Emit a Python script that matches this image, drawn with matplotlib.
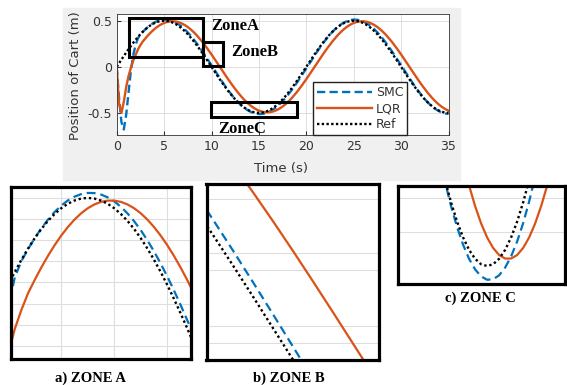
import numpy as np
import matplotlib
matplotlib.use("Agg")
import matplotlib.pyplot as plt
from matplotlib.patches import Rectangle

# sample times, 0.25 s step
time = np.linspace(0, 35, 141)

ref = [0.0, 0.0392, 0.0782, 0.1167, 0.1545, 0.1913, 0.2270, 0.2612, 0.2939, 0.3247,
       0.3536, 0.3802, 0.4045, 0.4263, 0.4455, 0.4619, 0.4755, 0.4862, 0.4938, 0.4985,
       0.5, 0.4985, 0.4938, 0.4862, 0.4755, 0.4619, 0.4455, 0.4263, 0.4045, 0.3802,
       0.3536, 0.3247, 0.2939, 0.2612, 0.2270, 0.1913, 0.1545, 0.1167, 0.0782, 0.0392,
       0.0, -0.0392, -0.0782, -0.1167, -0.1545, -0.1913, -0.2270, -0.2612, -0.2939, -0.3247,
       -0.3536, -0.3802, -0.4045, -0.4263, -0.4455, -0.4619, -0.4755, -0.4862, -0.4938, -0.4985,
       -0.5, -0.4985, -0.4938, -0.4862, -0.4755, -0.4619, -0.4455, -0.4263, -0.4045, -0.3802,
       -0.3536, -0.3247, -0.2939, -0.2612, -0.2270, -0.1913, -0.1545, -0.1167, -0.0782, -0.0392,
       0.0, 0.0392, 0.0782, 0.1167, 0.1545, 0.1913, 0.2270, 0.2612, 0.2939, 0.3247,
       0.3536, 0.3802, 0.4045, 0.4263, 0.4455, 0.4619, 0.4755, 0.4862, 0.4938, 0.4985,
       0.5, 0.4985, 0.4938, 0.4862, 0.4755, 0.4619, 0.4455, 0.4263, 0.4045, 0.3802,
       0.3536, 0.3247, 0.2939, 0.2612, 0.2270, 0.1913, 0.1545, 0.1167, 0.0782, 0.0392,
       0.0, -0.0392, -0.0782, -0.1167, -0.1545, -0.1913, -0.2270, -0.2612, -0.2939, -0.3247,
       -0.3536, -0.3802, -0.4045, -0.4263, -0.4455, -0.4619, -0.4755, -0.4862, -0.4938, -0.4985,
       -0.5]

lqr = [0.0, -0.40, -0.50, -0.38, -0.22, -0.10, -0.01, 0.07, 0.13, 0.19,
       0.235, 0.2745, 0.3058, 0.3353, 0.3628, 0.3880, 0.4108, 0.4310, 0.4486, 0.4635,
       0.4755, 0.4845, 0.4906, 0.4936, 0.4936, 0.4906, 0.4845, 0.4755, 0.4635, 0.4486,
       0.4310, 0.4108, 0.3880, 0.3628, 0.3353, 0.3058, 0.2745, 0.2414, 0.2068, 0.1710,
       0.1341, 0.0964, 0.0581, 0.0194, -0.0194, -0.0581, -0.0964, -0.1341, -0.1710, -0.2068,
       -0.2414, -0.2745, -0.3058, -0.3353, -0.3628, -0.3880, -0.4108, -0.4310, -0.4486, -0.4635,
       -0.4755, -0.4845, -0.4906, -0.4936, -0.4936, -0.4906, -0.4845, -0.4755, -0.4635, -0.4486,
       -0.4310, -0.4108, -0.3880, -0.3628, -0.3353, -0.3058, -0.2745, -0.2414, -0.2068, -0.1710,
       -0.1341, -0.0964, -0.0581, -0.0194, 0.0194, 0.0581, 0.0964, 0.1341, 0.1710, 0.2068,
       0.2414, 0.2745, 0.3058, 0.3353, 0.3628, 0.3880, 0.4108, 0.4310, 0.4486, 0.4635,
       0.4755, 0.4845, 0.4906, 0.4936, 0.4936, 0.4906, 0.4845, 0.4755, 0.4635, 0.4486,
       0.4310, 0.4108, 0.3880, 0.3628, 0.3353, 0.3058, 0.2745, 0.2414, 0.2068, 0.1710,
       0.1341, 0.0964, 0.0581, 0.0194, -0.0194, -0.0581, -0.0964, -0.1341, -0.1710, -0.2068,
       -0.2414, -0.2745, -0.3058, -0.3353, -0.3628, -0.3880, -0.4108, -0.4310, -0.4486, -0.4635,
       -0.4755]

smc = [0.0, -0.34, -0.60, -0.68, -0.52, -0.28, -0.04, 0.13, 0.24, 0.312,
       0.3505, 0.3787, 0.4046, 0.4279, 0.4487, 0.4666, 0.4817, 0.4939, 0.5029, 0.5089,
       0.5118, 0.5114, 0.5080, 0.5014, 0.4917, 0.4790, 0.4633, 0.4447, 0.4235, 0.3996,
       0.3732, 0.3446, 0.3138, 0.2811, 0.2467, 0.2107, 0.1734, 0.1351, 0.0959, 0.0562,
       0.0161, -0.0241, -0.0642, -0.1038, -0.1429, -0.1810, -0.2180, -0.2537, -0.2878, -0.3201,
       -0.3505, -0.3787, -0.4046, -0.4279, -0.4487, -0.4666, -0.4817, -0.4939, -0.5029, -0.5089,
       -0.5118, -0.5114, -0.5080, -0.5014, -0.4917, -0.4790, -0.4633, -0.4447, -0.4235, -0.3996,
       -0.3732, -0.3446, -0.3138, -0.2811, -0.2467, -0.2107, -0.1734, -0.1351, -0.0959, -0.0562,
       -0.0161, 0.0241, 0.0642, 0.1038, 0.1429, 0.1810, 0.2180, 0.2537, 0.2878, 0.3201,
       0.3505, 0.3787, 0.4046, 0.4279, 0.4487, 0.4666, 0.4817, 0.4939, 0.5029, 0.5089,
       0.5118, 0.5114, 0.5080, 0.5014, 0.4917, 0.4790, 0.4633, 0.4447, 0.4235, 0.3996,
       0.3732, 0.3446, 0.3138, 0.2811, 0.2467, 0.2107, 0.1734, 0.1351, 0.0959, 0.0562,
       0.0161, -0.0241, -0.0642, -0.1038, -0.1429, -0.1810, -0.2180, -0.2537, -0.2878, -0.3201,
       -0.3505, -0.3787, -0.4046, -0.4279, -0.4487, -0.4666, -0.4817, -0.4939, -0.5029, -0.5089,
       -0.5118]

# zone boxes (t0, t1, y0, y1)
zones = {"A": (1.3, 9.15, 0.109, 0.526),
         "B": (9.08, 11.2, 0.011, 0.272),
         "C": (9.93, 19.0, -0.543, -0.387)}

blue = "#0072BD"
orange = "#D95319"

W, H = 567, 385
fig = plt.figure(figsize=(W / 100, H / 100), dpi=100)

def px_axes(x0, y0, x1, y1):
    return fig.add_axes([x0 / W, 1 - y1 / H, (x1 - x0) / W, (y1 - y0) / H])

# matlab-ish grey figure background behind the main plot
fig.patches.append(Rectangle((63 / W, 1 - 180 / H), (460 - 63) / W, (180 - 8) / H,
                             transform=fig.transFigure, color="#f0f0f0", zorder=-5))

ax = px_axes(116.7, 14, 448.5, 135)
ax.plot(time, smc, color=blue, lw=1.7, linestyle=(0, (3.5, 1.8)), label="SMC")
ax.plot(time, lqr, color=orange, lw=1.7, label="LQR")
ax.plot(time, ref, color="black", lw=1.7, linestyle=(0, (1, 1)), label="Ref")
ax.set_xlim(0, 35)
ax.set_ylim(-0.74, 0.573)
ax.set_xticks([0, 5, 10, 15, 20, 25, 30, 35])
ax.set_yticks([-0.5, 0, 0.5])
ax.set_yticklabels(["-0.5", "0", "0.5"])
ax.grid(True, color="#dedede", lw=0.7)
ax.tick_params(labelsize=9, colors="#333333", direction="in", length=3)
for s in ax.spines.values():
    s.set_color("#333333")
    s.set_linewidth(0.6)
ax.set_xlabel("Time (s)", fontsize=9.5, color="#333333")
ax.set_ylabel("Position of Cart (m)", fontsize=9.5, color="#333333")
ax.xaxis.set_label_coords(0.496, -0.225)
ax.yaxis.set_label_coords(-0.106, 0.49)

for key, (t0, t1, y0, y1) in zones.items():
    ax.add_patch(Rectangle((t0, y0), t1 - t0, y1 - y0, fill=False, ec="black",
                           lw=2.2, zorder=6))
zfont = dict(family="Liberation Serif", weight="bold", fontsize=12)
ax.text(10.0, 0.445, "ZoneA", va="center", ha="left", **zfont)
ax.text(12.04, 0.157, "ZoneB", va="center", ha="left", **zfont)
ax.text(10.73, -0.67, "ZoneC", va="center", ha="left", **zfont)

leg = ax.legend(loc="lower left", bbox_to_anchor=(0.593, 0.0), borderaxespad=0,
                fontsize=9, handlelength=4.4, fancybox=False, framealpha=1,
                edgecolor="#222222", borderpad=0.3, labelspacing=0.25, handletextpad=0.3)
for t in leg.get_texts():
    t.set_color("#333333")

# zoomed panels
panels = [
    ((10.8, 186.5, 191.2, 358.5), (2.1, 8.9), (0.12, 0.527),
     [4, 6, 8], [0.15, 0.2, 0.25, 0.3, 0.35, 0.4, 0.45, 0.5],
     "a) ZONE A", (90.5, 378)),
    ((206.5, 184.2, 378.5, 360.2), (8.92, 11.06), (0.0, 0.217),
     [], [0.021, 0.042, 0.111, 0.132, 0.199],
     "b) ZONE B", (288.5, 378)),
    ((398.2, 185.5, 565.2, 283.5), (11.3, 18.25), (-0.515, -0.431),
     [], [-0.471, -0.442],
     "c) ZONE C", (480.5, 298)),
]
for box, xl, yl, xt, yt, name, (lx, ly) in panels:
    a = px_axes(*box)
    a.plot(time, smc, color=blue, lw=1.6, linestyle=(0, (4, 2.2)))
    a.plot(time, lqr, color=orange, lw=1.6)
    a.plot(time, ref, color="black", lw=1.7, linestyle=(0, (1, 1.2)))
    a.set_xlim(*xl)
    a.set_ylim(*yl)
    a.set_xticks(xt)
    a.set_yticks(yt)
    a.tick_params(labelleft=False, labelbottom=False, length=0)
    a.grid(True, color="#dedede", lw=0.8)
    for s in a.spines.values():
        s.set_color("black")
        s.set_linewidth(2.3)
    fig.text(lx / W, 1 - ly / H, name, ha="center", va="center",
             family="Liberation Serif", weight="bold", fontsize=10.5)

fig.savefig("out.png", dpi=100)
